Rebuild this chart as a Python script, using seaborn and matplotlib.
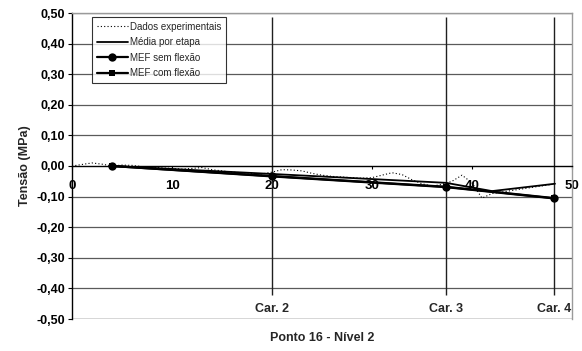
import matplotlib
matplotlib.use("Agg")
import matplotlib.pyplot as plt
import seaborn as sns
import pandas as pd

# Experimental readings (dotted trace)
exp_x = [0, 1, 2, 3, 4, 5, 6, 7, 8, 9, 10, 11, 12, 13, 14, 15, 16, 17, 18, 19,
         20, 21, 22, 23, 24, 25, 26, 27, 28, 29, 30, 31, 32, 33, 34, 35, 36, 37,
         38, 39, 40, 41, 42, 43, 44, 45, 46, 47, 48]
exp_y = [0.000, 0.005, 0.010, 0.006, 0.000, 0.003, 0.002, -0.002, -0.004, -0.006,
         -0.008, -0.010, -0.008, -0.005, -0.012, -0.016, -0.020, -0.022, -0.024, -0.026,
         -0.020, -0.012, -0.013, -0.016, -0.024, -0.030, -0.034, -0.036, -0.038, -0.040,
         -0.038, -0.030, -0.022, -0.028, -0.045, -0.058, -0.066, -0.060, -0.050, -0.030,
         -0.055, -0.105, -0.090, -0.085, -0.080, -0.075, -0.070, -0.065, -0.060]

# Mean per load stage
media_x = [4, 20, 37.4, 42, 48.3]
media_y = [0.000, -0.026, -0.055, -0.082, -0.058]

# Finite element results
mef_x = [4, 20, 37.4, 48.2]
mef_sem_y = [0.000, -0.033, -0.068, -0.105]
mef_com_y = [0.000, -0.034, -0.069, -0.106]

# Load stages
car_x = [20, 37.4, 48.2]
car_labels = ["Car. 2", "Car. 3", "Car. 4"]

x_ticks = [0, 10, 20, 30, 40, 50]
y_ticks = [0.5, 0.4, 0.3, 0.2, 0.1, 0.0, -0.1, -0.2, -0.3, -0.4, -0.5]

sns.set_style("white")
plt.rcParams["font.family"] = ["Liberation Sans", "DejaVu Sans"]

fig = plt.figure(figsize=(5.82, 3.51), dpi=100)
ax = fig.add_axes([72 / 582, 1 - 319 / 351, 500 / 582, 306 / 351])

# horizontal grid
for v in y_ticks:
    if v != 0.0:
        ax.axhline(v, color="#5a5a5a", lw=0.9, zorder=1)

# load-stage verticals
ax.vlines(car_x, -0.421, 0.487, color="#202020", lw=1.0, zorder=1)
for cx, lab in zip(car_x, car_labels):
    ax.text(cx, -0.468, lab, ha="center", va="center", fontsize=9,
            fontweight="bold")

df_exp = pd.DataFrame({"x": exp_x, "y": exp_y})
df_med = pd.DataFrame({"x": media_x, "y": media_y})
df_com = pd.DataFrame({"x": mef_x, "y": mef_com_y})
df_sem = pd.DataFrame({"x": mef_x, "y": mef_sem_y})

sns.lineplot(data=df_exp, x="x", y="y", ax=ax, color="black", lw=0.8,
             linestyle=(0, (1, 2)), label="Dados experimentais", sort=False, zorder=3)
sns.lineplot(data=df_med, x="x", y="y", ax=ax, color="black", lw=1.3,
             label="Média por etapa", sort=False, zorder=4)
sns.lineplot(data=df_sem, x="x", y="y", ax=ax, color="black", lw=1.6,
             marker="o", markersize=6, markeredgewidth=0,
             label="MEF sem flexão", sort=False, zorder=6)
sns.lineplot(data=df_com, x="x", y="y", ax=ax, color="black", lw=1.6,
             marker="s", markersize=5, markeredgewidth=0,
             label="MEF com flexão", sort=False, zorder=5)

ax.set_xlim(0, 50)
ax.set_ylim(-0.5, 0.5)

ax.spines["bottom"].set_position(("data", 0))
ax.spines["bottom"].set_color("black")
ax.spines["bottom"].set_linewidth(1.0)
ax.spines["left"].set_color("black")
ax.spines["left"].set_linewidth(1.0)
for s in ("top", "right"):
    ax.spines[s].set_color("#9a9a9a")
    ax.spines[s].set_linewidth(1.0)
ax.axhline(-0.5, color="#8a8a8a", lw=1.0, zorder=1)

ax.set_xticks(x_ticks)
ax.set_xticklabels([str(t) for t in x_ticks], fontsize=9.5, fontweight="bold")
ax.set_yticks(y_ticks)
ax.set_yticklabels([f"{t:.2f}".replace(".", ",") for t in y_ticks],
                   fontsize=9, fontweight="bold")
ax.tick_params(axis="x", direction="out", length=2.5, width=0.8, pad=7.5,
               bottom=True, colors="black")
ax.tick_params(axis="y", direction="out", length=3, width=0.8, pad=2,
               left=True, colors="black")

ax.set_xlabel("")
ax.set_ylabel("Tensão (MPa)", fontsize=9, fontweight="bold", labelpad=4)
fig.text(322 / 582, 1 - 338 / 351, "Ponto 16 - Nível 2", ha="center",
         va="center", fontsize=9, fontweight="bold")

leg = ax.legend(loc="upper left", bbox_to_anchor=(20 / 500, 1 - 4 / 306),
                fontsize=7, frameon=True, fancybox=False, handlelength=3.2,
                handletextpad=0.2, borderpad=0.5, labelspacing=0.55,
                borderaxespad=0)
leg.get_frame().set_edgecolor("black")
leg.get_frame().set_linewidth(0.8)
leg.set_zorder(10)

fig.savefig("out.png", dpi=100)
